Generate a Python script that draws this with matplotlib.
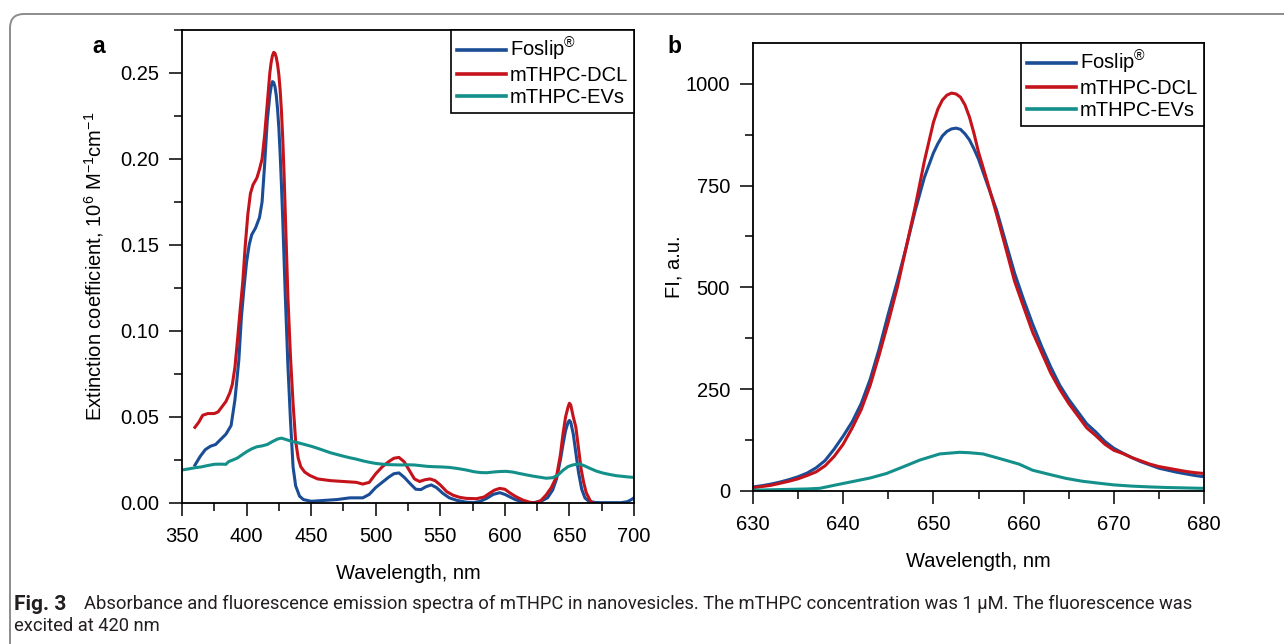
import matplotlib
matplotlib.use("Agg")
import matplotlib.pyplot as plt
from matplotlib.ticker import MultipleLocator, FormatStrFormatter
from matplotlib.patches import FancyBboxPatch
from matplotlib.transforms import IdentityTransform

plt.rcParams['font.family'] = ['Liberation Sans', 'DejaVu Sans']
plt.rcParams['mathtext.fontset'] = 'custom'
plt.rcParams['mathtext.rm'] = 'Liberation Sans'
plt.rcParams['mathtext.it'] = 'Liberation Sans:italic'
plt.rcParams['mathtext.bf'] = 'Liberation Sans:bold'

# ---------------- data: panel a (absorbance) ----------------
series_labels = [r'Foslip$^{\circledR}$', 'mTHPC-DCL', 'mTHPC-EVs']
colors = ['#1a4d96', '#c4131b', '#13908a']

abs_fos_wl = [360, 364, 368, 372, 376, 380, 384, 388, 391, 394, 396, 398, 400, 402, 404, 407, 410, 412,
              414, 416, 418, 419, 420, 421, 422, 423, 424, 425, 426, 427, 428, 430, 432, 434, 436, 438,
              441, 444, 447, 450, 460,
              470, 480, 490, 495, 500, 505, 510, 514, 518, 522, 527, 531, 535, 539, 543, 547, 552, 557,
              563, 570, 576, 581, 586, 591, 596, 600, 604, 608, 613, 618, 623, 628, 633, 637, 640, 643,
              645, 647, 649, 650, 651, 653, 655, 657, 659.5, 662, 665, 670, 675, 680, 685, 690, 695, 698, 700]
abs_fos = [0.022, 0.027, 0.031, 0.033, 0.034, 0.037, 0.040, 0.045, 0.060, 0.083, 0.108, 0.125, 0.140,
           0.150, 0.156, 0.160, 0.166, 0.175, 0.197, 0.222, 0.237, 0.242, 0.245, 0.2445, 0.242, 0.237,
           0.229, 0.218, 0.203, 0.185, 0.165, 0.120, 0.080, 0.048, 0.021, 0.010, 0.004, 0.002, 0.0015,
           0.001, 0.0015, 0.002, 0.003, 0.003,
           0.005, 0.009, 0.012, 0.015, 0.017, 0.0175, 0.015, 0.011, 0.008, 0.0078, 0.0095, 0.0105, 0.009,
           0.0056, 0.003, 0.0015, 0.0005, 0.0002, 0.001, 0.0027, 0.005, 0.006, 0.005, 0.0035, 0.002,
           0.0008, 0.0002, 0.0003, 0.001, 0.003, 0.0075, 0.014, 0.025, 0.034, 0.042, 0.047, 0.048, 0.047,
           0.040, 0.029, 0.018, 0.008, 0.003, 0.001, 0.0003, 0.0002, 0.0002, 0.0002, 0.0002, 0.0008,
           0.002, 0.003]

abs_dcl_wl = [360, 363, 366, 370, 375, 378, 381, 384, 387, 389, 391, 393, 395, 397, 399, 401, 403, 405,
              408, 410, 412, 414, 416, 417, 418, 419, 420, 421, 422, 423, 424, 425, 426, 427, 428, 429,
              430, 432, 434, 436, 438, 440, 442,
              445, 449, 455, 465, 475, 485, 490, 495, 500, 505, 510, 514, 518, 522, 526, 530, 534, 538,
              542, 546, 550, 555, 560, 565, 570, 578, 584, 588, 592, 596, 600, 604, 609, 614, 619, 623,
              628, 632, 636, 640, 643, 645, 647, 649, 650, 651, 653, 655, 657, 659, 661, 663, 666, 669,
              675, 690, 700]
abs_dcl = [0.044, 0.047, 0.051, 0.052, 0.052, 0.053, 0.056, 0.059, 0.064, 0.069, 0.079, 0.095, 0.112,
           0.128, 0.150, 0.168, 0.180, 0.185, 0.189, 0.194, 0.200, 0.214, 0.232, 0.241, 0.250, 0.256,
           0.260, 0.262, 0.2615, 0.259, 0.255, 0.249, 0.240, 0.228, 0.212, 0.192, 0.168, 0.120, 0.085,
           0.058, 0.036, 0.026, 0.021, 0.018, 0.016, 0.014,
           0.013, 0.0125, 0.012, 0.011, 0.012, 0.017, 0.021, 0.024, 0.026, 0.0265, 0.024, 0.019, 0.014,
           0.0125, 0.0135, 0.014, 0.013, 0.0105, 0.0066, 0.0045, 0.0033, 0.0027, 0.0025, 0.0035, 0.0056,
           0.0075, 0.0085, 0.008, 0.0058, 0.0035, 0.0017, 0.0005, 0.0, 0.0015, 0.0047, 0.009, 0.0153,
           0.028, 0.040, 0.050, 0.056, 0.058, 0.057, 0.050, 0.044, 0.032, 0.020, 0.012, 0.006, 0.0015,
           -0.001, -0.003, -0.003, -0.003]

abs_ev_wl = [350, 355, 360, 365, 370, 375, 380, 384, 386, 390, 393, 397, 400, 404, 408, 412, 416, 420,
             424, 427, 431, 435, 440, 445, 450, 455, 460, 465, 470, 475, 480, 485, 490, 495, 500, 505,
             510, 515, 520, 525, 530, 535, 540, 545, 550, 557, 563, 570, 576, 581, 586, 591, 596, 601,
             606, 611, 617, 622, 627, 632, 637, 641, 645, 649, 653, 658, 662, 666, 671, 676, 681, 686,
             691, 696, 700]
abs_ev = [0.0192, 0.0198, 0.0205, 0.021, 0.0218, 0.0225, 0.0226, 0.0225, 0.0240, 0.0252, 0.0262, 0.0283,
          0.0298, 0.0315, 0.0327, 0.0332, 0.0340, 0.0357, 0.0372, 0.0377, 0.0368, 0.0358, 0.0350, 0.0340,
          0.0330, 0.0318, 0.0305, 0.0292, 0.0282, 0.0272, 0.0263, 0.0255, 0.0245, 0.0237, 0.0230, 0.0226,
          0.0223, 0.0222, 0.0221, 0.0222, 0.0221, 0.0217, 0.0213, 0.0211, 0.0210, 0.0207, 0.0201, 0.0192,
          0.0182, 0.0177, 0.0176, 0.0180, 0.0183, 0.0184, 0.0180, 0.0172, 0.0163, 0.0156, 0.0150, 0.0144,
          0.0147, 0.0162, 0.0190, 0.0212, 0.0222, 0.0227, 0.0215, 0.0201, 0.0185, 0.0174, 0.0166, 0.0159,
          0.0155, 0.0151, 0.0149]

# ---------------- data: panel b (fluorescence) ----------------
fl_wl = [630, 631, 632, 633, 634, 635, 636, 637, 638, 639, 640, 641, 642, 643, 644, 645, 646, 647, 648,
         649, 650, 650.5, 651, 651.5, 652, 652.5, 653, 653.5, 654, 654.5, 655, 656, 657, 658, 659, 660,
         661, 662, 663, 664, 665, 666, 667,
         668, 669, 670, 671, 672, 673, 674, 675, 676, 677, 678, 679, 680]
fl_fos = [10, 13, 17, 22, 28, 35, 44, 57, 75, 103, 135, 170, 215, 275, 350, 435, 515, 600, 690, 770, 830,
          853, 872, 883, 889, 891, 888, 877, 862, 840, 815, 752, 690, 612, 535, 470, 410, 355, 305, 260,
          225, 195, 165, 145, 122,
          105, 93, 82, 72, 64, 56, 51, 46, 42, 38, 35]
fl_dcl = [8, 11, 14, 19, 24, 30, 38, 47, 62, 85, 115, 155, 200, 260, 335, 415, 500, 600, 700, 810, 905,
          938, 960, 972, 977, 975, 967, 948, 918, 878, 832, 758, 680, 598, 515, 452, 390, 340, 290, 250,
          215, 185, 155, 136, 115,
          100, 92, 82, 74, 66, 60, 56, 52, 48, 45, 43]
fl_ev_wl = [630, 632, 634, 636, 637.4, 639, 641, 643, 644.8, 646.5, 648.5, 650.7, 652.9, 654, 655.5, 657.3,
            659.5, 661, 663, 664.7, 666.5, 668.4, 670, 672, 674, 676, 678, 680]
fl_ev = [2, 3, 4, 5, 6.6, 14, 23, 32, 43, 58, 76, 91, 95, 94, 91, 80, 66, 51, 40, 31, 24, 19, 15, 12, 10,
         8.5, 7.5, 6.5]

caption_bold = "Fig. 3"
caption_line1 = ("Absorbance and fluorescence emission spectra of mTHPC in nanovesicles. "
                 "The mTHPC concentration was 1 \u03bcM. The fluorescence was")
caption_line2 = "excited at 420 nm"

W, H = 1284, 644
fig = plt.figure(figsize=(W / 100, H / 100), dpi=100)

# rounded border
border = FancyBboxPatch((10, -30), 1320, H - 14 + 30, boxstyle="round,pad=0,rounding_size=14",
                        transform=IdentityTransform(), facecolor='none', edgecolor='#8c8c8c', lw=1.4)
fig.patches.append(border)

def fr(x0, y0, x1, y1):
    return [x0 / W, 1 - y1 / H, (x1 - x0) / W, (y1 - y0) / H]

axA = fig.add_axes(fr(182, 30, 634, 503))
axB = fig.add_axes(fr(753, 43, 1204, 491))

FS = 14.5
lw = 2.2
for ax in (axA, axB):
    for s in ax.spines.values():
        s.set_linewidth(1.3)
    ax.tick_params(which='major', direction='out', length=9.5, width=1.1, labelsize=FS)
    ax.tick_params(which='minor', direction='out', length=5.5, width=1.1)
    ax.tick_params(axis='x', which='major', pad=7.5)
    ax.tick_params(axis='y', which='major', pad=7)

axA.plot(abs_fos_wl, abs_fos, color=colors[0], lw=lw, label=series_labels[0])
axA.plot(abs_dcl_wl, abs_dcl, color=colors[1], lw=lw, label=series_labels[1])
axA.plot(abs_ev_wl, abs_ev, color=colors[2], lw=lw, label=series_labels[2])
axA.set_xlim(350, 700)
axA.set_ylim(0, 0.275)
axA.xaxis.set_major_locator(MultipleLocator(50))
axA.xaxis.set_minor_locator(MultipleLocator(25))
axA.yaxis.set_major_locator(MultipleLocator(0.05))
axA.yaxis.set_minor_locator(MultipleLocator(0.025))
axA.yaxis.set_major_formatter(FormatStrFormatter('%.2f'))
axA.set_xlabel('Wavelength, nm', fontsize=FS, labelpad=13)
axA.set_ylabel(r'Extinction coefficient, 10$^{6}$ M$^{-1}$cm$^{-1}$', fontsize=FS)
axA.yaxis.set_label_coords(-0.168, 0.5)

axB.plot(fl_wl, fl_fos, color=colors[0], lw=lw, label=series_labels[0])
axB.plot(fl_wl, fl_dcl, color=colors[1], lw=lw, label=series_labels[1])
axB.plot(fl_ev_wl, fl_ev, color=colors[2], lw=lw, label=series_labels[2])
axB.set_xlim(630, 680)
axB.set_ylim(0, 1100)
axB.xaxis.set_major_locator(MultipleLocator(10))
axB.xaxis.set_minor_locator(MultipleLocator(5))
axB.yaxis.set_major_locator(MultipleLocator(250))
axB.yaxis.set_minor_locator(MultipleLocator(125))
axB.set_xlabel('Wavelength, nm', fontsize=FS, labelpad=13)
axB.set_ylabel('FI, a.u.', fontsize=FS)
axB.yaxis.set_label_coords(-0.155, 0.5)

for ax in (axA, axB):
    leg = ax.legend(loc='upper right', bbox_to_anchor=(1.0, 1.0), borderaxespad=0.0, fontsize=FS,
                    handlelength=2.4, handletextpad=0.2, labelspacing=0.15, borderpad=0.3,
                    fancybox=False, framealpha=1, edgecolor='black')
    leg.get_frame().set_linewidth(1.2)
    for l in leg.get_lines():
        l.set_linewidth(2.6)

fig.text(92 / W, 1 - 53 / H, 'a', fontsize=FS + 2, fontweight='bold', va='baseline')
fig.text(667 / W, 1 - 53 / H, 'b', fontsize=FS + 2, fontweight='bold', va='baseline')

cap_font = ['Roboto', 'DejaVu Sans']
fig.text(14 / W, 1 - 610 / H, caption_bold, fontsize=15, fontweight='bold', family=cap_font,
         va='baseline', color='#231f20')
fig.text(84 / W, 1 - 609 / H, caption_line1, fontsize=13.2, family=cap_font, va='baseline', color='#231f20')
fig.text(14 / W, 1 - 631 / H, caption_line2, fontsize=13.2, family=cap_font, va='baseline', color='#231f20')

fig.savefig('out.png', dpi=100)
